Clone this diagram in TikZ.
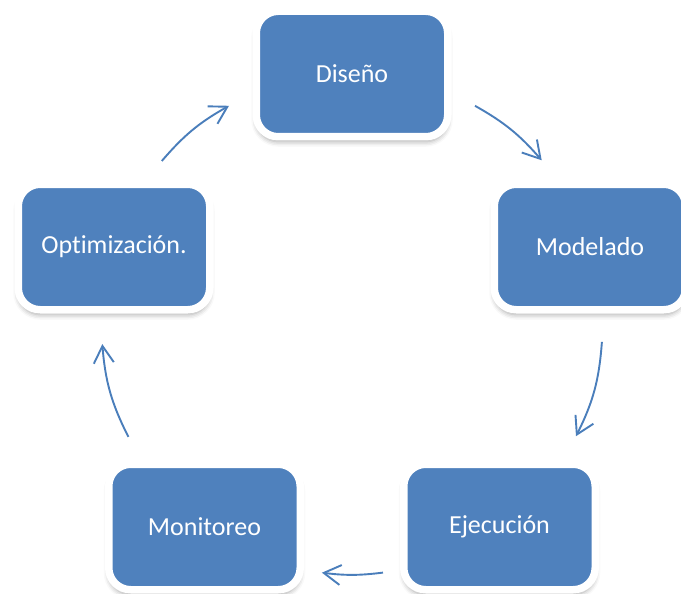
\documentclass[tikz,border=0pt]{standalone}
\usepackage{fontspec}
\setmainfont{Carlito}[Ligatures=NoCommon]
\usetikzlibrary{arrows.meta,shadows.blur}
\definecolor{boxblue}{HTML}{4F81BD}
\definecolor{arrblue}{HTML}{4A7EBB}
\begin{document}
\begin{tikzpicture}[x=1pt,y=-1pt,
  box/.style={rectangle, rounded corners=22pt, fill=boxblue, draw=white,
    line width=7.5pt, minimum width=191.5pt, minimum height=125.5pt,
    text=white, font=\fontsize{26}{30}\selectfont,
    blur shadow={shadow xshift=0pt, shadow yshift=-5pt, shadow blur radius=5pt, shadow opacity=35}},
  arr/.style={draw=arrblue, line width=1.9pt, -{Straight Barb[length=17pt,width=20pt]}}]
\useasboundingbox (0,0) rectangle (681,594);
\node[box] (dis) at (352,74) {Diseño};
\node[box] (mod) at (590,247) {Modelado};
\node[box] (eje) at (499.5,527) {Ejecución};
\node[box] (mon) at (204.5,527) {Monitoreo};
\node[box] (opt) at (114,247) {Optimización.};
\coordinate (a1s) at (475.0,105.8);
\coordinate (a1e) at (541.7,160.3);
\coordinate (a2s) at (601.9,341.9);
\coordinate (a2e) at (576.0,436.2);
\coordinate (a3s) at (383.0,572.6);
\coordinate (a3e) at (321.9,572.7);
\coordinate (a4s) at (128.4,436.9);
\coordinate (a4e) at (102.3,344.1);
\coordinate (a5s) at (161.8,161.0);
\coordinate (a5e) at (229.0,105.8);
\draw[arr] (a1s) to[bend left=9.9] (a1e);
\draw[arr] (a2s) to[bend left=11.2] (a2e);
\draw[arr] (a3s) to[bend left=7] (a3e);
\draw[arr] (a4s) to[bend left=11.1] (a4e);
\draw[arr] (a5s) to[bend left=10] (a5e);
\end{tikzpicture}
\end{document}
